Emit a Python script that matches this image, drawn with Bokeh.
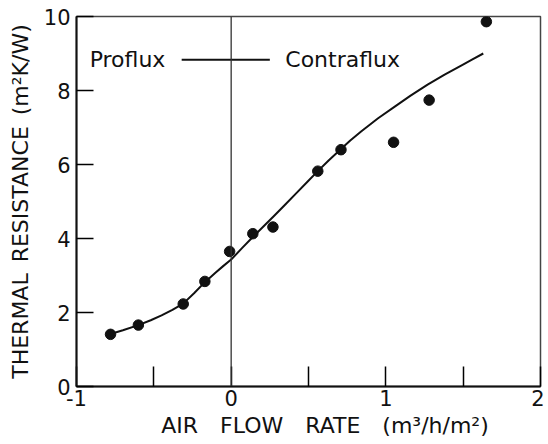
from bokeh.plotting import figure
from bokeh.models import Range1d, FixedTicker, Span, Label
from bokeh.embed import file_html
from bokeh.resources import INLINE

# measured points
flow = [-0.78, -0.60, -0.31, -0.17, -0.01, 0.14, 0.27, 0.56, 0.71, 1.05, 1.28, 1.65]
resistance = [1.41, 1.66, 2.23, 2.84, 3.65, 4.13, 4.31, 5.82, 6.40, 6.60, 7.74, 9.86]

# fitted curve
fit_x = [-0.78, -0.70, -0.60, -0.52, -0.45, -0.38, -0.31, -0.24, -0.17, -0.10, -0.05, 0.0,
         0.07, 0.14, 0.21, 0.28, 0.35, 0.42, 0.49, 0.56, 0.63, 0.71, 0.77, 0.84, 0.95,
         1.06, 1.16, 1.27, 1.38, 1.49, 1.56, 1.63]
fit_y = [1.42, 1.52, 1.66, 1.79, 1.92, 2.07, 2.24, 2.52, 2.82, 3.08, 3.26, 3.43,
         3.74, 4.04, 4.33, 4.62, 4.92, 5.22, 5.52, 5.82, 6.11, 6.42, 6.65, 6.89, 7.25,
         7.57, 7.86, 8.16, 8.43, 8.68, 8.84, 9.00]

x_ticks = [-1, -0.5, 0, 0.5, 1, 1.5, 2]
x_tick_labels = {-1: "-1", -0.5: "", 0: "0", 0.5: "", 1: "1", 1.5: "", 2: "2"}
y_ticks = [0, 2, 4, 6, 8, 10]

legend_x = [-0.32, 0.25]
legend_y = [8.83, 8.83]

FONT = "DejaVu Sans"

p = figure(width=544, height=440, output_backend="svg", toolbar_location=None,
           x_range=Range1d(-1, 2), y_range=Range1d(0, 10),
           min_border_left=76, min_border_right=4, min_border_top=16, min_border_bottom=54)

p.grid.visible = False
p.background_fill_color = "white"
p.border_fill_color = "white"
p.outline_line_color = "#444444"
p.outline_line_width = 1.5

p.xaxis.ticker = FixedTicker(ticks=x_ticks)
p.xaxis.major_label_overrides = {k: v for k, v in x_tick_labels.items()}
p.xaxis.major_tick_in = 20
p.xaxis.major_tick_out = 0
p.xaxis.minor_tick_line_color = None
p.xaxis.axis_line_width = 2
p.xaxis.axis_line_color = "#111111"
p.xaxis.major_tick_line_width = 1.5
p.xaxis.major_label_text_font = FONT
p.xaxis.major_label_text_font_size = "21px"
p.xaxis.major_label_text_color = "#111111"
p.xaxis.major_label_standoff = 3
p.xaxis.axis_label = "\u2002\u2003AIR\u2003FLOW\u2003RATE\u2003(m\u00b3/h/m\u00b2)"
p.xaxis.axis_label_text_font = FONT
p.xaxis.axis_label_text_font_style = "normal"
p.xaxis.axis_label_text_font_size = "22px"
p.xaxis.axis_label_text_color = "#111111"
p.xaxis.axis_label_standoff = 4

p.yaxis.ticker = FixedTicker(ticks=y_ticks)
p.yaxis.major_tick_in = 17
p.yaxis.major_tick_out = 0
p.yaxis.minor_tick_line_color = None
p.yaxis.axis_line_width = 2
p.yaxis.axis_line_color = "#111111"
p.yaxis.major_tick_line_width = 1.5
p.yaxis.major_label_text_font = FONT
p.yaxis.major_label_text_font_size = "21px"
p.yaxis.major_label_text_color = "#111111"
p.yaxis.major_label_standoff = 6
p.yaxis.axis_label = "THERMAL\u2002RESISTANCE\u2002(m\u00b2K/W)"
p.yaxis.axis_label_text_font = FONT
p.yaxis.axis_label_text_font_style = "normal"
p.yaxis.axis_label_text_font_size = "22px"
p.yaxis.axis_label_text_color = "#111111"
p.yaxis.axis_label_standoff = 8

p.add_layout(Span(location=0, dimension="height", line_color="#333333", line_width=1.3))

p.line(fit_x, fit_y, line_color="#111111", line_width=2, line_join="round")
p.scatter(flow, resistance, size=10.5, marker="circle", fill_color="#111111", line_color="#111111")

p.line(legend_x, legend_y, line_color="#111111", line_width=2)
p.add_layout(Label(x=-0.915, y=8.83, text="Proflux", text_font=FONT, text_font_size="22px",
                   text_baseline="middle", text_align="left", text_color="#111111"))
p.add_layout(Label(x=0.35, y=8.83, text="Contraflux", text_font=FONT, text_font_size="22px",
                   text_baseline="middle", text_align="left", text_color="#111111"))

open("out.html", "w").write(file_html(p, INLINE))
